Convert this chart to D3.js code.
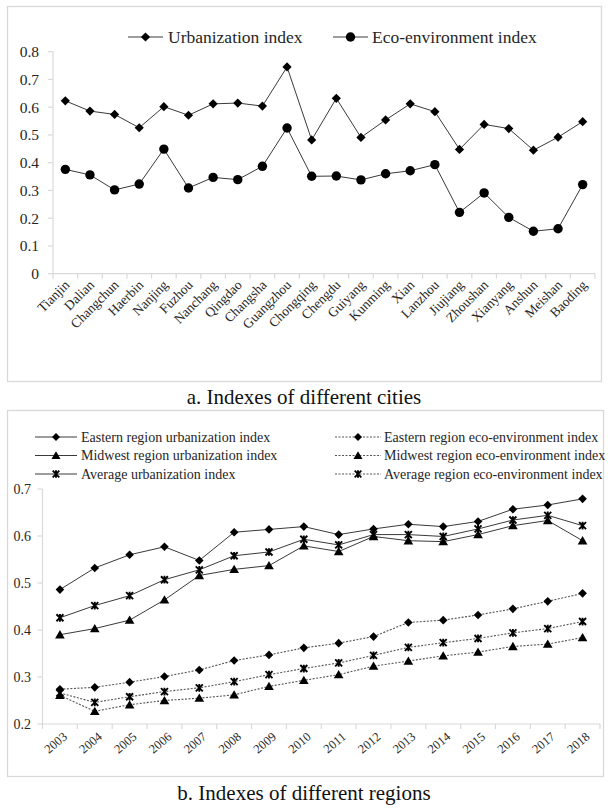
<!DOCTYPE html>
<html>
<head>
<meta charset="utf-8">
<script src="https://cdn.jsdelivr.net/npm/d3@7"></script>
<style>
  html, body { margin: 0; padding: 0; background: #fff; }
  svg { display: block; font-family: "Liberation Serif", "Times New Roman", serif; }
</style>
</head>
<body>
<svg id="chart" width="608" height="812"></svg>
<script>
// ---- Panel a: indexes of different cities ----
const cities = ["Tianjin","Dalian","Changchun","Haerbin","Nanjing","Fuzhou","Nanchang","Qingdao","Changsha","Guangzhou","Chongqing","Chengdu","Guiyang","Kunming","Xian","Lanzhou","Jiujiang","Zhoushan","Xianyang","Anshun","Meishan","Baoding"];
const cityUrbanization = [0.623,0.586,0.574,0.526,0.602,0.571,0.612,0.615,0.604,0.745,0.482,0.632,0.491,0.554,0.612,0.584,0.448,0.538,0.523,0.445,0.492,0.548];
const cityEco = [0.376,0.356,0.302,0.323,0.449,0.309,0.347,0.339,0.387,0.525,0.351,0.352,0.338,0.360,0.371,0.393,0.221,0.291,0.203,0.153,0.162,0.321];
const cityTicks = [0,0.1,0.2,0.3,0.4,0.5,0.6,0.7,0.8];

// ---- Panel b: indexes of different regions ----
const years = ["2003","2004","2005","2006","2007","2008","2009","2010","2011","2012","2013","2014","2015","2016","2017","2018"];
const easternUrban = [0.486,0.532,0.560,0.577,0.548,0.608,0.614,0.620,0.603,0.615,0.625,0.620,0.631,0.657,0.666,0.679];
const midwestUrban = [0.390,0.403,0.421,0.464,0.516,0.529,0.537,0.579,0.567,0.599,0.590,0.588,0.603,0.622,0.633,0.590];
const averageUrban = [0.426,0.452,0.473,0.507,0.528,0.558,0.566,0.593,0.581,0.603,0.603,0.599,0.615,0.634,0.644,0.622];
const easternEco = [0.274,0.278,0.289,0.301,0.315,0.335,0.347,0.362,0.372,0.386,0.416,0.421,0.432,0.445,0.461,0.478];
const midwestEco = [0.261,0.227,0.241,0.250,0.255,0.262,0.280,0.293,0.305,0.323,0.334,0.345,0.353,0.365,0.370,0.384];
const averageEco = [0.266,0.246,0.258,0.269,0.277,0.290,0.305,0.318,0.330,0.346,0.363,0.373,0.382,0.394,0.403,0.418];
const regionTicks = [0.2,0.3,0.4,0.5,0.6,0.7];

const svg = d3.select("#chart");
const axisColor = "#d9d9d9";
const lineColor = "#3a3a3a";

// marker shapes
function diamond(s) { return `M0,${-s}L${s},0L0,${s}L${-s},0Z`; }
function triangle(s) { return `M0,${-s}L${s*1.05},${s*0.8}L${-s*1.05},${s*0.8}Z`; }
function asterisk(s) { return `M${-s},${-s}L${s},${s}M${s},${-s}L${-s},${s}M0,${-s*1.1}L0,${s*1.1}`; }

function drawMarker(g, type, x, y, size) {
  if (type === "circle") {
    g.append("circle").attr("cx", x).attr("cy", y).attr("r", size).attr("fill", "#000");
  } else if (type === "diamond") {
    g.append("path").attr("d", diamond(size)).attr("transform", `translate(${x},${y})`).attr("fill", "#000");
  } else if (type === "triangle") {
    g.append("path").attr("d", triangle(size)).attr("transform", `translate(${x},${y})`).attr("fill", "#000");
  } else if (type === "asterisk") {
    g.append("path").attr("d", asterisk(size)).attr("transform", `translate(${x},${y})`)
      .attr("fill", "none").attr("stroke", "#000").attr("stroke-width", 1.9);
  }
}

// panel frames
svg.append("rect").attr("x", 7.5).attr("y", 6.5).attr("width", 594).attr("height", 375)
  .attr("fill", "none").attr("stroke", axisColor).attr("stroke-width", 1.3);
svg.append("rect").attr("x", 7.5).attr("y", 410.5).attr("width", 596).attr("height", 366)
  .attr("fill", "none").attr("stroke", axisColor).attr("stroke-width", 1.3);

function drawPanel(cfg) {
  const g = svg.append("g");
  const x = d3.scalePoint().domain(cfg.cats).range(cfg.xr).padding(0.5);
  const y = d3.scaleLinear().domain(cfg.yd).range(cfg.yr);
  const step = x.step();

  // y axis
  g.append("line").attr("x1", cfg.xr[0]).attr("x2", cfg.xr[0]).attr("y1", cfg.yr[0]).attr("y2", cfg.yr[1])
    .attr("stroke", axisColor).attr("stroke-width", 1.2);
  cfg.yticks.forEach(t => {
    g.append("line").attr("x1", cfg.xr[0] - 5).attr("x2", cfg.xr[0]).attr("y1", y(t)).attr("y2", y(t))
      .attr("stroke", axisColor).attr("stroke-width", 1.2);
    g.append("text").attr("x", cfg.ylabX).attr("y", y(t)).attr("dy", "0.35em")
      .attr("text-anchor", "end").attr("font-size", cfg.yFont).attr("fill", "#262626")
      .text(t === 0 ? "0" : d3.format(".1f")(t));
  });

  // x axis with ticks at category boundaries
  g.append("line").attr("x1", cfg.xr[0]).attr("x2", cfg.xr[1]).attr("y1", cfg.yr[0]).attr("y2", cfg.yr[0])
    .attr("stroke", axisColor).attr("stroke-width", 1.2);
  for (let i = 0; i <= cfg.cats.length; i++) {
    const xx = cfg.xr[0] + i * step;
    g.append("line").attr("x1", xx).attr("x2", xx).attr("y1", cfg.yr[0]).attr("y2", cfg.yr[0] + 5)
      .attr("stroke", axisColor).attr("stroke-width", 1.2);
  }
  cfg.cats.forEach(c => {
    g.append("text").attr("text-anchor", "end").attr("font-size", cfg.xFont).attr("fill", "#262626")
      .attr("transform", `translate(${x(c) + cfg.xlabDx},${cfg.yr[0] + cfg.xlabDy}) rotate(${cfg.xRot})`)
      .text(c);
  });

  // series
  cfg.series.forEach(s => {
    const line = d3.line().x((d, i) => x(cfg.cats[i])).y(d => y(d));
    g.append("path").datum(s.values).attr("d", line).attr("fill", "none")
      .attr("stroke", s.dash ? "#555" : lineColor).attr("stroke-width", s.dash ? 1.1 : 1)
      .attr("stroke-dasharray", s.dash ? "2,1.5" : null);
  });
  cfg.series.forEach(s => {
    s.values.forEach((v, i) => drawMarker(g, s.marker, x(cfg.cats[i]), y(v), s.size));
  });
  return g;
}

drawPanel({
  cats: cities, xr: [53, 595], yd: [0, 0.8], yr: [273.7, 51.7], yticks: cityTicks,
  ylabX: 39, yFont: 15.5, xFont: 13.5, xlabDx: 5, xlabDy: 12, xRot: -45,
  series: [
    { values: cityUrbanization, marker: "diamond", size: 4.6 },
    { values: cityEco, marker: "circle", size: 4.7 }
  ]
});

drawPanel({
  cats: years, xr: [42.5, 600], yd: [0.2, 0.7], yr: [724, 489], yticks: regionTicks,
  ylabX: 31, yFont: 14, xFont: 12.5, xlabDx: 8, xlabDy: 14, xRot: -40,
  series: [
    { values: easternUrban, marker: "diamond", size: 4.3 },
    { values: midwestUrban, marker: "triangle", size: 4.6 },
    { values: averageUrban, marker: "asterisk", size: 3.5 },
    { values: easternEco, marker: "diamond", size: 4.3, dash: true },
    { values: midwestEco, marker: "triangle", size: 4.6, dash: true },
    { values: averageEco, marker: "asterisk", size: 3.5, dash: true }
  ]
});

// legend, panel a
const legA = [
  { label: "Urbanization index", marker: "diamond", size: 4.6, x0: 128, x1: 163, tx: 168 },
  { label: "Eco-environment index", marker: "circle", size: 4.7, x0: 333, x1: 368, tx: 372 }
];
legA.forEach(l => {
  const g = svg.append("g");
  g.append("line").attr("x1", l.x0).attr("x2", l.x1).attr("y1", 37).attr("y2", 37)
    .attr("stroke", lineColor).attr("stroke-width", 1);
  drawMarker(g, l.marker, (l.x0 + l.x1) / 2, 37, l.size);
  g.append("text").attr("x", l.tx).attr("y", 37).attr("dy", "0.35em").attr("font-size", 17.5)
    .attr("fill", "#262626").text(l.label);
});

// legend, panel b
const legB = [
  { label: "Eastern region urbanization index", marker: "diamond", size: 4.0, col: 0, row: 0 },
  { label: "Midwest region urbanization index", marker: "triangle", size: 4.3, col: 0, row: 1 },
  { label: "Average urbanization index", marker: "asterisk", size: 3.3, col: 0, row: 2 },
  { label: "Eastern region eco-environment index", marker: "diamond", size: 4.0, col: 1, row: 0, dash: true },
  { label: "Midwest region eco-environment index", marker: "triangle", size: 4.3, col: 1, row: 1, dash: true },
  { label: "Average region eco-environment index", marker: "asterisk", size: 3.3, col: 1, row: 2, dash: true }
];
const legCols = [{ x0: 35, x1: 77, tx: 81 }, { x0: 335, x1: 381, tx: 384 }];
legB.forEach(l => {
  const c = legCols[l.col];
  const yy = 437 + l.row * 18.5;
  const g = svg.append("g");
  g.append("line").attr("x1", c.x0).attr("x2", c.x1).attr("y1", yy).attr("y2", yy)
    .attr("stroke", l.dash ? "#555" : lineColor).attr("stroke-width", 1)
    .attr("stroke-dasharray", l.dash ? "2,1.5" : null);
  drawMarker(g, l.marker, (c.x0 + c.x1) / 2, yy, l.size);
  g.append("text").attr("x", c.tx).attr("y", yy).attr("dy", "0.35em").attr("font-size", 14)
    .attr("fill", "#262626").text(l.label);
});

// captions
svg.append("text").attr("x", 304).attr("y", 404).attr("text-anchor", "middle")
  .attr("font-size", 21).attr("fill", "#111").text("a. Indexes of different cities");
svg.append("text").attr("x", 304).attr("y", 800).attr("text-anchor", "middle")
  .attr("font-size", 21).attr("fill", "#111").text("b. Indexes of different regions");
</script>
</body>
</html>
